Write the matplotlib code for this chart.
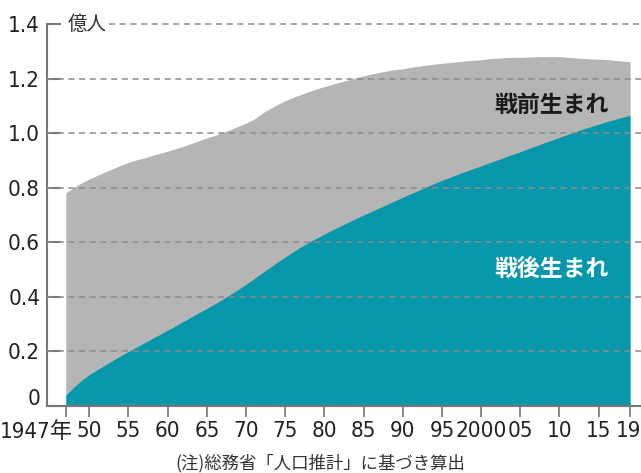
import matplotlib
matplotlib.use("Agg")
import matplotlib.pyplot as plt
import matplotlib.transforms as mtransforms
from matplotlib import font_manager as fm

years = list(range(1947, 2020))
# Total population (億人)
total = [0.781, 0.800, 0.818, 0.832, 0.845, 0.858, 0.870, 0.882, 0.893, 0.902,
         0.909, 0.918, 0.926, 0.934, 0.943, 0.952, 0.962, 0.972, 0.983, 0.991,
         1.002, 1.013, 1.025, 1.037, 1.051, 1.072, 1.089, 1.105, 1.119, 1.131,
         1.142, 1.152, 1.162, 1.171, 1.179, 1.187, 1.195, 1.203, 1.210, 1.217,
         1.223, 1.228, 1.233, 1.236, 1.241, 1.246, 1.249, 1.253, 1.256, 1.259,
         1.262, 1.265, 1.267, 1.269, 1.273, 1.275, 1.277, 1.278, 1.278, 1.279,
         1.280, 1.281, 1.280, 1.281, 1.278, 1.276, 1.274, 1.272, 1.271, 1.270,
         1.267, 1.264, 1.262]
# Post-war born population (億人)
postwar = [0.040, 0.068, 0.094, 0.115, 0.133, 0.150, 0.167, 0.184, 0.200, 0.216,
           0.231, 0.247, 0.262, 0.278, 0.294, 0.310, 0.326, 0.342, 0.358, 0.374,
           0.391, 0.409, 0.427, 0.446, 0.466, 0.487, 0.507, 0.527, 0.546, 0.565,
           0.583, 0.600, 0.615, 0.630, 0.645, 0.659, 0.673, 0.687, 0.700, 0.713,
           0.726, 0.739, 0.752, 0.765, 0.778, 0.790, 0.803, 0.815, 0.827, 0.838,
           0.849, 0.860, 0.870, 0.880, 0.891, 0.901, 0.912, 0.922, 0.932, 0.943,
           0.953, 0.964, 0.974, 0.985, 0.995, 1.005, 1.015, 1.024, 1.033, 1.042,
           1.050, 1.058, 1.066]

xticks = [1947, 1950, 1955, 1960, 1965, 1970, 1975, 1980, 1985, 1990, 1995,
          2000, 2005, 2010, 2015, 2019]
xticklabels = ["1947年", "50", "55", "60", "65", "70", "75", "80", "85", "90",
               "95", "2000", "05", "10", "15", "19"]
yticks = [0, 0.2, 0.4, 0.6, 0.8, 1.0, 1.2, 1.4]
yticklabels = ["0", "0.2", "0.4", "0.6", "0.8", "1.0", "1.2", "1.4"]

# pick a condensed face if one is installed, else Liberation Sans
num_family = "Liberation Sans"
num_stretch = "normal"
num_size = 15
for fam in ["Liberation Sans Narrow", "DejaVu Sans", "Roboto", "Open Sans", "Noto Sans"]:
    try:
        path = fm.findfont(fm.FontProperties(family=fam, stretch="condensed"),
                           fallback_to_default=False)
        if "ondensed" in path or "arrow" in path:
            num_family, num_stretch, num_size = fam, "condensed", 16
            break
    except Exception:
        pass

NUM = [num_family, "Noto Sans CJK JP", "DejaVu Sans"]
JP = ["Noto Sans CJK JP", "DejaVu Sans"]

GRAY = "#b5b5b5"
TEAL = "#0797aa"

fig = plt.figure(figsize=(6.41, 4.73), dpi=100)
ax = fig.add_axes([0.0733, 0.1416, 0.9267, 0.8076])

ax.fill_between(years, 0, total, color=GRAY, lw=0, zorder=1)
ax.fill_between(years, 0, postwar, color=TEAL, lw=0, zorder=2)

ax.set_xlim(1944.6, 2020.4)
ax.set_ylim(0, 1.4)

for v in yticks[1:-1]:
    ax.axhline(v, color="#8c8c8c", lw=1.1, ls=(0, (4, 3)), zorder=3)
ax.axhline(1.4, xmin=0.105, color="#8c8c8c", lw=1.1, ls=(0, (4, 3)), zorder=3, clip_on=False)

for s in ["top", "right"]:
    ax.spines[s].set_visible(False)
for s in ["left", "bottom"]:
    ax.spines[s].set_color("#777777")
    ax.spines[s].set_linewidth(1.5)

ax.set_yticks(yticks)
ax.set_yticklabels(yticklabels, family=NUM, stretch=num_stretch, fontsize=num_size,
                   color="#222222")
ax.tick_params(axis="y", direction="in", length=10, width=1.5, color="#777777", pad=5)
ax.set_xticks(xticks)
ax.set_xticklabels(xticklabels, family=NUM, stretch=num_stretch, fontsize=num_size,
                   color="#222222")
ax.tick_params(axis="x", direction="out", length=8, width=1.2, color="#777777", pad=3)

# shift the "0" label up, "1947年" right-aligned, "19" nudged left
ylabs = ax.get_yticklabels()
ylabs[0].set_transform(ylabs[0].get_transform() +
                       mtransforms.ScaledTranslation(0, 9/100, fig.dpi_scale_trans))
xlabs = ax.get_xticklabels()
xlabs[0].set_horizontalalignment("right")
xlabs[0].set_transform(xlabs[0].get_transform() +
                       mtransforms.ScaledTranslation(7/100, 0, fig.dpi_scale_trans))
xlabs[-1].set_transform(xlabs[-1].get_transform() +
                        mtransforms.ScaledTranslation(-2/100, 0, fig.dpi_scale_trans))

ax.text(0.035, 1.4, "億人", family=JP, fontsize=14, color="#333333",
        transform=mtransforms.blended_transform_factory(ax.transAxes, ax.transData),
        ha="left", va="center")

ax.text(2009.0, 1.10, "戦前生まれ", family=JP, fontsize=16.5, fontweight="bold",
        color="#1a1a1a", ha="center", va="center", zorder=5)
ax.text(2009.0, 0.50, "戦後生まれ", family=JP, fontsize=16.5, fontweight="bold",
        color="white", ha="center", va="center", zorder=5)

fig.text(320/641, 1 - 463/473, "(注)総務省「人口推計」に基づき算出", family=JP,
         fontsize=12.5, color="#333333", ha="center", va="center")

fig.savefig("out.png", dpi=100)
